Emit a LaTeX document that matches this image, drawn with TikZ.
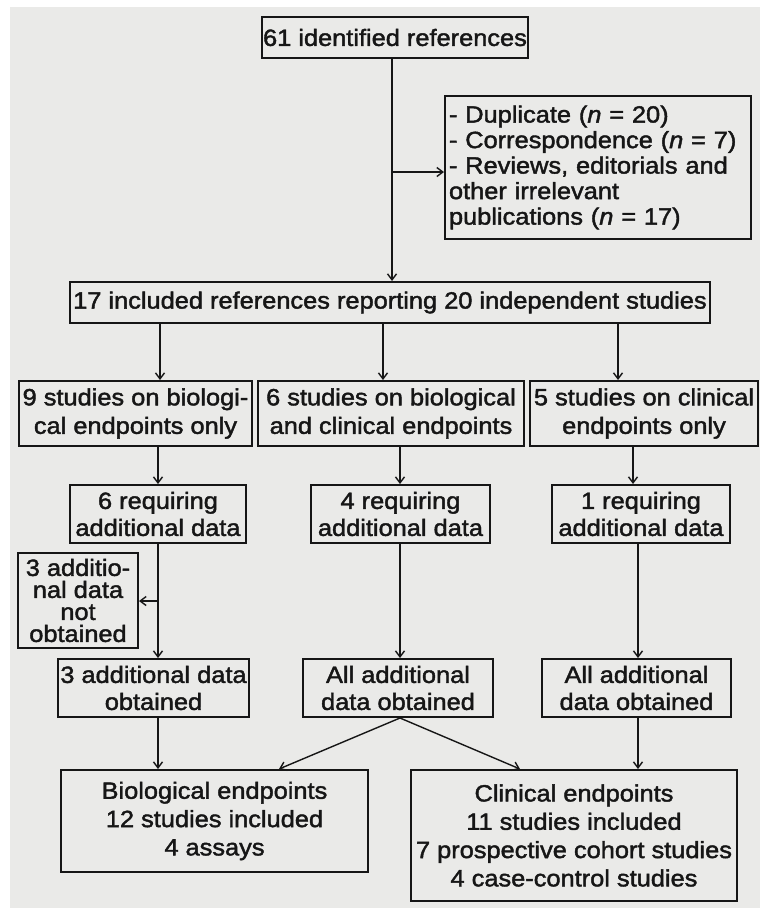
\documentclass[tikz,border=0pt]{standalone}
\usepackage{fontspec}
\setmainfont[FakeStretch=1.08,FakeBold=1.8]{Liberation Sans}
\usetikzlibrary{arrows.meta,calc}
\definecolor{paper}{RGB}{234,234,232}
\definecolor{ink}{RGB}{22,22,22}
\newcommand\tfont[1]{\fontsize{23.5}{#1}\selectfont\lineskiplimit=-50pt\relax}
\begin{document}
\begin{tikzpicture}[x=1pt,y=-1pt,
  box/.style={draw=ink, line width=2pt, inner sep=0pt, align=center, text=ink,
    font=\tfont{27}},
  arr/.style={draw=ink, line width=1.4pt, -{Straight Barb[length=6pt,width=9pt]}},
]
\useasboundingbox (0,0) rectangle (760,908);
\fill[white] (0,0) rectangle (760,908);
\fill[paper] (10,7) rectangle (760,908);

% boxes
\node[box, minimum width=266pt, minimum height=41pt] (top) at (395,37.5) {61 identified references};
\node[box, minimum height=143pt, text width=298pt, inner xsep=4pt, align=left,
  font=\tfont{25.5}] (excl) at (598,167.5)
  {- Duplicate (\textit{n} = 20)\\- Correspondence (\textit{n} = 7)\\- Reviews, editorials and\\other irrelevant\\publications (\textit{n} = 17)};
\node[box, minimum width=640pt, minimum height=41pt] (main) at (390,302.5) {17 included references reporting 20 independent studies};

\node[box, minimum width=233pt, minimum height=65pt, font=\tfont{28.5}] (A2) at (135.5,413.5) {9 studies on biologi-\\cal endpoints only};
\node[box, minimum width=266pt, minimum height=65pt, font=\tfont{28.5}] (B2) at (391,413.5) {6 studies on biological\\and clinical endpoints};
\node[box, minimum width=228pt, minimum height=65pt, font=\tfont{28.5}] (C2) at (644,413.5) {5 studies on clinical\\endpoints only};

\node[box, minimum width=176pt, minimum height=58pt] (A3) at (158,514) {6 requiring\\additional data};
\node[box, minimum width=179pt, minimum height=58pt] (B3) at (400.5,514) {4 requiring\\additional data};
\node[box, minimum width=178pt, minimum height=58pt] (C3) at (641,514) {1 requiring\\additional data};

\node[box, minimum width=120pt, minimum height=95pt, font=\tfont{22}] (N) at (78,600.5) {3 additio-\\nal data\\not\\obtained};

\node[box, minimum width=191pt, minimum height=58pt] (A4) at (153.5,688) {3 additional data\\obtained};
\node[box, minimum width=190pt, minimum height=58pt] (B4) at (398,688) {All additional\\data obtained};
\node[box, minimum width=189pt, minimum height=58pt] (C4) at (636.5,688) {All additional\\data obtained};

\node[box, minimum width=307pt, minimum height=102pt, font=\tfont{28.3}] (Bio) at (214.5,821) {Biological endpoints\\12 studies included\\4 assays};
\node[box, minimum width=326pt, minimum height=131pt, font=\tfont{28.3}] (Clin) at (574,835.5) {Clinical endpoints\\11 studies included\\7 prospective cohort studies\\4 case-control studies};

% helper coordinates
\coordinate (vx) at (392,0);
\coordinate (br) at (392,172);
\coordinate (c1) at (160,0);
\coordinate (c2) at (383,0);
\coordinate (c3) at (618,0);
\coordinate (d1) at (158,0);
\coordinate (d2) at (400,0);
\coordinate (d3) at (633,0);
\coordinate (f3) at (638,0);
\coordinate (nb) at (158,601);
\coordinate (e1) at (279,0);
\coordinate (e2) at (520,0);

% connectors
\draw[arr] (top.south -| vx) -- (main.north -| vx);
\draw[arr] (br) -- (br -| excl.west);

\draw[arr] (main.south -| c1) -- (A2.north -| c1);
\draw[arr] (main.south -| c2) -- (B2.north -| c2);
\draw[arr] (main.south -| c3) -- (C2.north -| c3);

\draw[arr] (A2.south -| d1) -- (A3.north -| d1);
\draw[arr] (B2.south -| d2) -- (B3.north -| d2);
\draw[arr] (C2.south -| d3) -- (C3.north -| d3);

\draw[arr] (A3.south -| d1) -- (A4.north -| d1);
\draw[arr] (nb) -- (nb -| N.east);
\draw[arr] (B3.south -| d2) -- (B4.north -| d2);
\draw[arr] (C3.south -| f3) -- (C4.north -| f3);

\draw[arr] (A4.south -| d1) -- (Bio.north -| d1);
\draw[arr] (B4.south -| d2) -- (Bio.north -| e1);
\draw[arr] (B4.south -| d2) -- (Clin.north -| e2);
\draw[arr] (C4.south -| f3) -- (Clin.north -| f3);
\end{tikzpicture}
\end{document}
